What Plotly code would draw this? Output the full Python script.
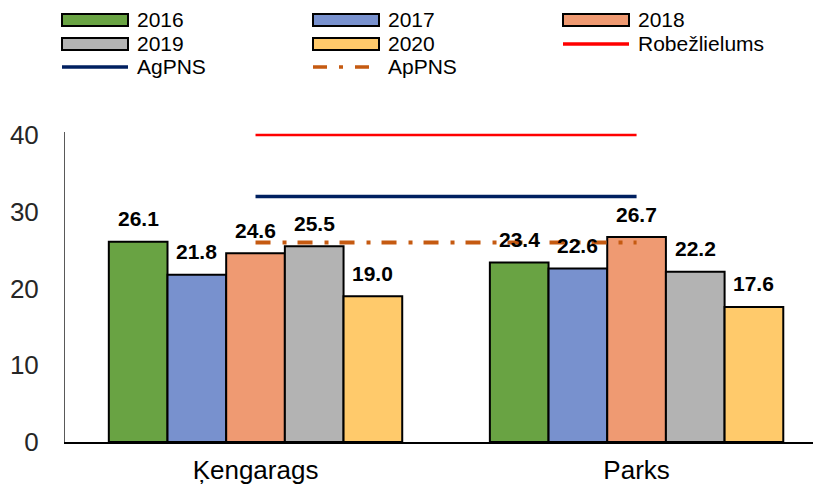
import plotly.graph_objects as go

# ---- data ----
categories = ["Ķengarags", "Parks"]
years = ["2016", "2017", "2018", "2019", "2020"]
values_2016 = [26.1, 23.4]
values_2017 = [21.8, 22.6]
values_2018 = [24.6, 26.7]
values_2019 = [25.5, 22.2]
values_2020 = [19.0, 17.6]
limit_robezlielums = 40
limit_agpns = 32
limit_appns = 26
y_ticks = [0, 10, 20, 30, 40]

series = [values_2016, values_2017, values_2018, values_2019, values_2020]
colors = ["#69A343", "#7891CE", "#EF9A72", "#B3B3B3", "#FFCA6B"]

OFF = 8  # page body margin in the browser
W, H = 813, 478
ML, MR, MT, MB = 57, 0, 124, 44
PW, PH = W - ML - MR, H - MT - MB
BARGAP = 0.23
FONT = "Liberation Sans, Arial, sans-serif"

fig = go.Figure()
for name, vals, col in zip(years, series, colors):
    fig.add_trace(go.Bar(
        name=name, x=[0, 1], y=vals,
        marker=dict(color=col, line=dict(color="#000000", width=2)),
        showlegend=False,
    ))

fig.add_trace(go.Scatter(x=[0, 1], y=[limit_robezlielums] * 2, mode="lines",
                         line=dict(color="#FF0000", width=2.5), showlegend=False))
fig.add_trace(go.Scatter(x=[0, 1], y=[limit_agpns] * 2, mode="lines",
                         line=dict(color="#002060", width=3.5), showlegend=False))
fig.add_trace(go.Scatter(x=[0, 1], y=[limit_appns] * 2, mode="lines",
                         line=dict(color="#C55A11", width=4, dash="15px,12px,4px,11px"),
                         showlegend=False))

# data labels above bars
bw = (1 - BARGAP) / len(series)
annotations = []
for i, vals in enumerate(series):
    off = (i - (len(series) - 1) / 2) * bw
    for c, v in enumerate(vals):
        annotations.append(dict(
            x=c + off, y=v, xref="x", yref="y", text=f"<b>{v:.1f}</b>",
            showarrow=False, yshift=23, yanchor="middle",
            font=dict(family=FONT, size=21, color="#000000"),
        ))

# custom legend (wide swatches as in the original); coords in window pixels
def px_x(p):
    return (p - OFF - ML) / PW

def px_y(p):
    return (H - MB - (p - OFF)) / PH

shapes = []
legend_items = [
    ("2016", "bar", colors[0], 62, 20),
    ("2017", "bar", colors[1], 313, 20),
    ("2018", "bar", colors[2], 563, 20),
    ("2019", "bar", colors[3], 62, 44),
    ("2020", "bar", colors[4], 313, 44),
    ("Robežlielums", "line", "#FF0000", 563, 44),
    ("AgPNS", "line", "#002060", 62, 67),
    ("ApPNS", "dash", "#C55A11", 313, 67),
]
for label, kind, col, x0, yc in legend_items:
    if kind == "bar":
        shapes.append(dict(type="rect", xref="paper", yref="paper",
                           x0=px_x(x0), x1=px_x(x0 + 66), y0=px_y(yc - 6), y1=px_y(yc + 6),
                           fillcolor=col, line=dict(color="#000000", width=2)))
    elif kind == "line":
        shapes.append(dict(type="line", xref="paper", yref="paper",
                           x0=px_x(x0), x1=px_x(x0 + 66), y0=px_y(yc), y1=px_y(yc),
                           line=dict(color=col, width=3.5)))
    else:
        shapes.append(dict(type="line", xref="paper", yref="paper",
                           x0=px_x(x0), x1=px_x(x0 + 66), y0=px_y(yc), y1=px_y(yc),
                           line=dict(color=col, width=3.5, dash="14px,12px,4px,12px")))
    annotations.append(dict(
        x=px_x(x0 + 73), y=px_y(yc), xref="paper", yref="paper", text=label,
        showarrow=False, xanchor="left", yanchor="middle",
        font=dict(family=FONT, size=21, color="#000000"),
    ))

fig.update_layout(
    width=W, height=H,
    margin=dict(l=ML, r=MR, t=MT, b=MB, pad=0, autoexpand=False),
    paper_bgcolor="white", plot_bgcolor="white",
    barmode="group", bargap=BARGAP, bargroupgap=0,
    showlegend=False,
    shapes=shapes, annotations=annotations,
    xaxis=dict(
        range=[-0.5, 1.484], automargin=False,
        tickmode="array", tickvals=[0, 1], ticktext=categories,
        showgrid=False, zeroline=False, showline=True,
        linecolor="#000000", linewidth=2, ticks="",
        tickfont=dict(family=FONT, size=26, color="#000000"),
        ticklabelstandoff=4,
    ),
    yaxis=dict(
        range=[0, 40.4], tickmode="array", tickvals=y_ticks, automargin=False,
        showgrid=False, zeroline=False, showline=True,
        linecolor="#595959", linewidth=1, ticks="",
        tickfont=dict(family=FONT, size=26, color="#262626"),
        ticklabelstandoff=20,
    ),
)

fig.write_html("out.html")
